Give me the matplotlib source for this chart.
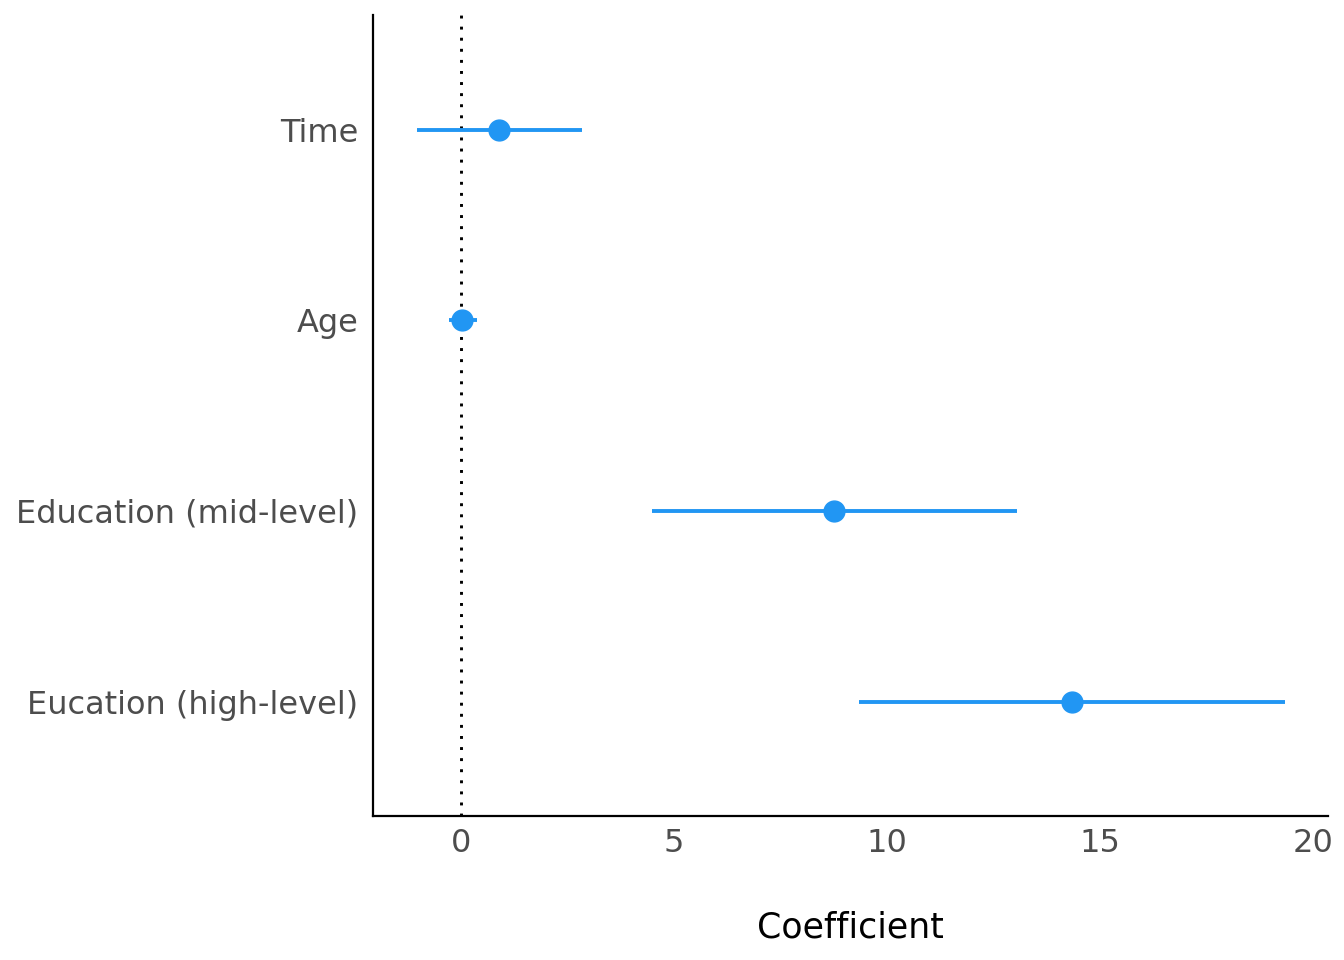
import matplotlib
matplotlib.use("Agg")
import matplotlib.pyplot as plt

terms = ["Time", "Age", "Education (mid-level)", "Eucation (high-level)"]
estimates = [0.89, 0.02, 8.76, 14.34]
ci_low = [-1.03, -0.28, 4.48, 9.34]
ci_high = [2.84, 0.38, 13.05, 19.34]
xticks = [0, 5, 10, 15, 20]

color = "#2196F3"
fig = plt.figure(figsize=(13.44, 9.6), dpi=100)
ax = fig.add_axes([0.2775, 0.15, 0.7105, 0.834])

ypos = list(range(1, len(terms) + 1))
ax.axvline(0, color="black", lw=2.1, linestyle=(0, (1, 2.8)), zorder=1)
ax.hlines(ypos, ci_low, ci_high, color=color, lw=2.8, zorder=2)
ax.plot(estimates, ypos, "o", color=color, markersize=15, linestyle="none", zorder=3)

ax.set_ylim(4.6, 0.4)
ax.set_xlim(-2.07, 20.35)
ax.set_yticks(ypos)
ax.set_yticklabels(terms)
ax.set_xticks(xticks)
ax.set_xticklabels([str(t) for t in xticks])
ax.tick_params(axis="both", length=0, labelsize=23, labelcolor="#4d4d4d")
ax.tick_params(axis="y", pad=10.5)
ax.tick_params(axis="x", pad=9)
for s in ["top", "right"]:
    ax.spines[s].set_visible(False)
for s in ["left", "bottom"]:
    ax.spines[s].set_linewidth(1.6)
ax.set_xlabel("Coefficient", fontsize=25, labelpad=37)

fig.savefig("out.png", dpi=100)
